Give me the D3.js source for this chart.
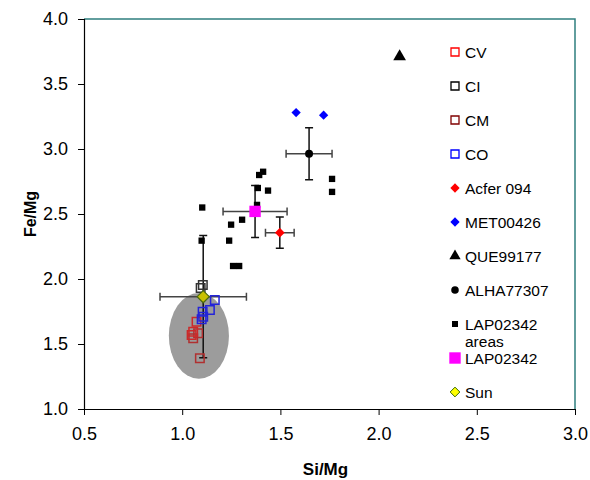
<!DOCTYPE html>
<html>
<head>
<meta charset="utf-8">
<script src="https://cdn.jsdelivr.net/npm/d3@7"></script>
<style>
  body { margin: 0; background: #fff; }
  svg text { font-family: Arial, "Liberation Sans", sans-serif; fill: #000; }
</style>
</head>
<body>
<div id="chart"></div>
<script>
// ---- data (Si/Mg, Fe/Mg) ----
const cvPoints = [[1.056, 1.595], [1.048, 1.569], [1.073, 1.672]];
const ciPoints = [[1.094, 1.931], [1.105, 1.954]];
const cmPoints = [[1.081, 1.582], [1.056, 1.544], [1.09, 1.39]];
const coPoints = [[1.166, 1.838], [1.141, 1.762], [1.104, 1.748], [1.107, 1.71], [1.099, 1.69]];
const acferPoints = [[1.497, 2.356]];
const metPoints = [[1.58, 3.28], [1.72, 3.26]];
const quePoints = [[2.107, 3.71]];
const alhaPoints = [[1.646, 2.964]];
const lapAreaPoints = [
  [1.412, 2.825], [1.392, 2.80], [1.385, 2.70], [1.437, 2.68], [1.763, 2.77], [1.763, 2.67],
  [1.381, 2.57], [1.102, 2.55], [1.305, 2.456], [1.249, 2.418], [1.099, 2.295], [1.239, 2.295],
  [1.259, 2.10], [1.29, 2.10]
];
const lapPoints = [[1.371, 2.52]];
const sunPoints = [[1.107, 1.864]];

// error bars: [x, y, xErr, yErr]
const errorBars = [
  [1.107, 1.864, 0.22, 0.47],   // Sun
  [1.371, 2.52, 0.163, 0.2],    // LAP02342
  [1.497, 2.356, 0.073, 0.12],  // Acfer 094
  [1.646, 2.964, 0.117, 0.2]    // ALHA77307
];
// chondrite field ellipse: [cx, cy, rx, ry]
const chondriteField = [1.085, 1.562, 0.153, 0.33];

const xTicks = [0.5, 1.0, 1.5, 2.0, 2.5, 3.0];
const yTicks = [1.0, 1.5, 2.0, 2.5, 3.0, 3.5, 4.0];
const legendLabels = ['CV', 'CI', 'CM', 'CO', 'Acfer 094', 'MET00426', 'QUE99177', 'ALHA77307', 'LAP02342 areas', 'LAP02342', 'Sun'];

const dimensions = { width: 590, height: 480, left: 84, right: 575, top: 19, bottom: 409 };

const xScale = d3.scaleLinear().domain([0.5, 3.0]).range([dimensions.left, dimensions.right]);
const yScale = d3.scaleLinear().domain([1.0, 4.0]).range([dimensions.bottom, dimensions.top]);

const svg = d3.select('#chart').append('svg')
  .attr('width', dimensions.width)
  .attr('height', dimensions.height);

// frame (top/right)
svg.append('path')
  .attr('d', `M${dimensions.left},${dimensions.top}H${dimensions.right}V${dimensions.bottom}`)
  .attr('fill', 'none')
  .attr('stroke', '#2f7f7f')
  .attr('stroke-width', 1.5);

// axes
const xAxis = d3.axisBottom(xScale).tickValues(xTicks).tickFormat(d3.format('.1f')).tickSize(6).tickPadding(12);
const yAxis = d3.axisLeft(yScale).tickValues(yTicks).tickFormat(d3.format('.1f')).tickSize(6).tickPadding(10);

const xAxisGroup = svg.append('g').attr('transform', `translate(0,${dimensions.bottom})`).call(xAxis);
const yAxisGroup = svg.append('g').attr('transform', `translate(${dimensions.left},0)`).call(yAxis);
[xAxisGroup, yAxisGroup].forEach(g => {
  g.select('.domain').attr('stroke', '#000').attr('stroke-width', 1.2);
  g.selectAll('.tick line').attr('stroke', '#000');
  g.selectAll('.tick text').attr('font-size', 18).attr('font-family', 'Arial, "Liberation Sans", sans-serif').attr('fill', '#000');
});
xAxisGroup.select('.domain').attr('d', `M${dimensions.left},0.5H${dimensions.right}`);
yAxisGroup.select('.domain').attr('d', `M0.5,${dimensions.top}V${dimensions.bottom}`);

svg.append('text')
  .attr('x', (dimensions.left + dimensions.right) / 2 - 4)
  .attr('y', 475)
  .attr('text-anchor', 'middle')
  .attr('font-size', 17)
  .attr('font-weight', 'bold')
  .text('Si/Mg');

svg.append('text')
  .attr('transform', `translate(36,${(dimensions.top + dimensions.bottom) / 2}) rotate(-90)`)
  .attr('text-anchor', 'middle')
  .attr('font-size', 16)
  .attr('font-weight', 'bold')
  .text('Fe/Mg');

const plot = svg.append('g');

// chondrite field
plot.append('ellipse')
  .attr('cx', xScale(chondriteField[0]))
  .attr('cy', yScale(chondriteField[1]))
  .attr('rx', xScale(chondriteField[0] + chondriteField[2]) - xScale(chondriteField[0]))
  .attr('ry', yScale(chondriteField[1]) - yScale(chondriteField[1] + chondriteField[3]))
  .attr('fill', '#9c9c9c');

// error bars
const cap = 4;
errorBars.forEach(([x, y, ex, ey]) => {
  const g = plot.append('g').attr('fill', 'none');
  g.append('path')
    .attr('d', `M${xScale(x)},${yScale(y + ey)}V${yScale(y - ey)}` +
      `M${xScale(x) - cap},${yScale(y + ey)}h${cap * 2}M${xScale(x) - cap},${yScale(y - ey)}h${cap * 2}`)
    .attr('stroke', '#111').attr('stroke-width', 1.5);
  g.append('path')
    .attr('d', `M${xScale(x - ex)},${yScale(y)}H${xScale(x + ex)}` +
      `M${xScale(x - ex)},${yScale(y) - cap}v${cap * 2}M${xScale(x + ex)},${yScale(y) - cap}v${cap * 2}`)
    .attr('stroke', '#444').attr('stroke-width', 1.5);
});

const symbols = {
  square: d3.symbolSquare,
  diamond: d3.symbolDiamond2,
  triangle: d3.symbolTriangle,
  circle: d3.symbolCircle
};

function drawSeries(data, shape, size, fill, stroke, strokeWidth) {
  plot.append('g').selectAll('path')
    .data(data)
    .join('path')
    .attr('transform', d => `translate(${xScale(d[0])},${yScale(d[1])})`)
    .attr('d', d3.symbol(symbols[shape], size))
    .attr('fill', fill)
    .attr('stroke', stroke)
    .attr('stroke-width', strokeWidth);
}

drawSeries(lapAreaPoints, 'square', 40, '#000', 'none', 0);
drawSeries(cmPoints, 'square', 72, 'none', '#b03030', 1.5);
drawSeries(cvPoints, 'square', 72, 'none', '#cc2a2a', 1.5);
drawSeries(ciPoints, 'square', 72, 'none', '#333', 1.5);
drawSeries(coPoints, 'square', 72, 'none', '#2424d8', 1.5);
drawSeries(sunPoints, 'diamond', 95, '#c8c000', '#4a6a10', 1.2);
drawSeries(lapPoints, 'square', 130, '#ff00ff', 'none', 0);
drawSeries(acferPoints, 'diamond', 60, '#ff0000', 'none', 0);
drawSeries(metPoints, 'diamond', 55, '#0000ff', 'none', 0);
drawSeries(alhaPoints, 'circle', 50, '#000', 'none', 0);
drawSeries(quePoints, 'triangle', 70, '#000', 'none', 0);

// legend
const legendStyles = [
  { shape: 'square', size: 64, fill: 'none', stroke: '#ff0000', sw: 1.3 },
  { shape: 'square', size: 64, fill: 'none', stroke: '#000', sw: 1.3 },
  { shape: 'square', size: 64, fill: 'none', stroke: '#800000', sw: 1.3 },
  { shape: 'square', size: 64, fill: 'none', stroke: '#0000ff', sw: 1.3 },
  { shape: 'diamond', size: 55, fill: '#ff0000', stroke: 'none', sw: 0 },
  { shape: 'diamond', size: 55, fill: '#0000ff', stroke: 'none', sw: 0 },
  { shape: 'triangle', size: 55, fill: '#000', stroke: 'none', sw: 0 },
  { shape: 'circle', size: 45, fill: '#000', stroke: 'none', sw: 0 },
  { shape: 'square', size: 36, fill: '#000', stroke: 'none', sw: 0 },
  { shape: 'square', size: 130, fill: '#ff00ff', stroke: 'none', sw: 0 },
  { shape: 'diamond', size: 60, fill: '#ffff00', stroke: '#336600', sw: 1 }
];

const legend = svg.append('g').attr('transform', 'translate(455,52)');
legendLabels.forEach((label, i) => {
  const st = legendStyles[i];
  const row = legend.append('g').attr('transform', `translate(0,${i * 34})`);
  row.append('path')
    .attr('d', d3.symbol(symbols[st.shape], st.size))
    .attr('fill', st.fill)
    .attr('stroke', st.stroke)
    .attr('stroke-width', st.sw);
  const words = label === 'LAP02342 areas' ? ['LAP02342', 'areas'] : [label];
  words.forEach((w, j) => {
    row.append('text')
      .attr('x', 10)
      .attr('y', 6 + j * 17)
      .attr('font-size', 15.5)
      .text(w);
  });
});
</script>
</body>
</html>
